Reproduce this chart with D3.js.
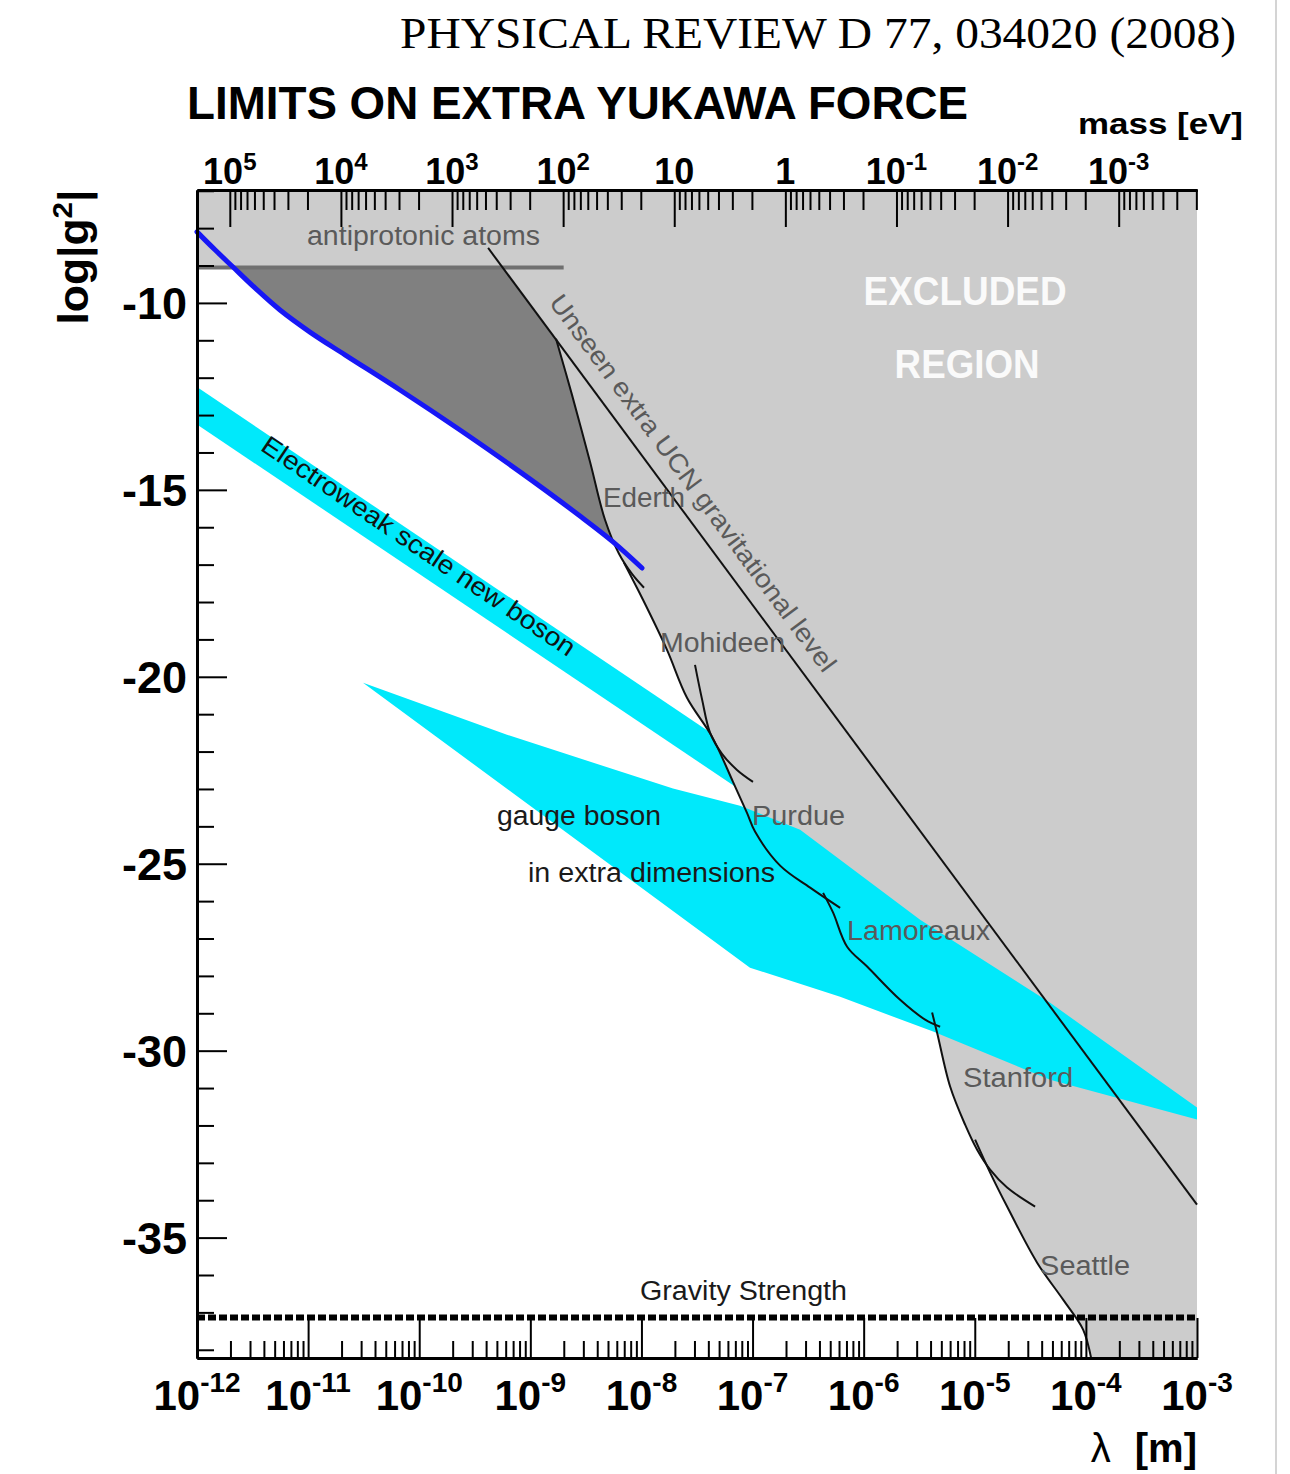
<!DOCTYPE html>
<html>
<head>
<meta charset="utf-8">
<title>Limits on extra Yukawa force</title>
<script src="https://cdn.jsdelivr.net/npm/d3@7/dist/d3.min.js"></script>
<style>
  html, body { margin: 0; padding: 0; background: #fff; }
  svg { display: block; font-family: "Liberation Sans", Arial, Helvetica, sans-serif; }
</style>
</head>
<body>
<svg id="chart" width="1290" height="1474"></svg>
<script>
// All curves are given as [log10(λ / m), log10 |g²|].
const lambdaExponents = [-12, -11, -10, -9, -8, -7, -6, -5, -4, -3];
const massExponents = [5, 4, 3, 2, 1, 0, -1, -2, -3];
const gMajorTicks = [-10, -15, -20, -25, -30, -35];

// new limit from neutron scattering (blue)
const thisWork = [[-12, -8.10], [-11.838, -8.58], [-11.676, -9.04], [-11.478, -9.60], [-11.253, -10.19],
  [-10.983, -10.78], [-10.668, -11.39], [-10.173, -12.33], [-9.633, -13.40], [-9.093, -14.52],
  [-8.553, -15.70], [-8.256, -16.39], [-7.995, -17.09]];

// sensitivity of an unseen extra UCN gravitational level
const ucnLevel = [[-9.38, -8.53], [-3.0, -34.12]];

// antiprotonic atoms constraint
const antiprotonic = [[-12, -9.05], [-8.7, -9.05]];

// previous experimental limits
const ederth = [[-8.769, -10.96], [-8.625, -12.46], [-8.463, -14.25], [-8.328, -15.80], [-8.202, -16.71],
  [-8.085, -17.25], [-7.977, -17.62]];
const mohideen = [[-8.157, -16.95], [-7.986, -17.94], [-7.770, -19.28], [-7.590, -20.56], [-7.365, -21.60],
  [-7.176, -22.81], [-7.050, -23.64], [-6.978, -24.14], [-6.752, -25.05], [-6.482, -25.64], [-6.212, -26.18]];
const purdue = [[-7.518, -19.68], [-7.454, -20.61], [-7.382, -21.50], [-7.275, -22.06], [-7.140, -22.49],
  [-6.996, -22.81]];
const lamoreaux = [[-6.365, -25.78], [-6.275, -26.31], [-6.149, -27.22], [-5.969, -27.75], [-5.672, -28.64],
  [-5.447, -29.17], [-5.312, -29.36]];
const stanford = [[-5.384, -28.98], [-5.339, -29.52], [-5.222, -30.96], [-5.087, -31.98], [-4.979, -32.65],
  [-4.862, -33.18], [-4.709, -33.66], [-4.457, -34.17]];
const seattle = [[-4.997, -32.38], [-4.862, -33.26], [-4.709, -34.17], [-4.439, -35.67], [-4.205, -36.66],
  [-4.025, -37.46], [-3.953, -38.22]];

// lower boundary of the previously excluded region (bottom right → top left)
const excludedEdge = [[-3.953, -38.22], [-4.025, -37.46], [-4.205, -36.66], [-4.439, -35.67], [-4.709, -34.17],
  [-4.862, -33.26], [-4.979, -32.65], [-5.087, -31.98], [-5.222, -30.96], [-5.339, -29.52], [-5.384, -29.30],
  [-5.447, -29.17], [-5.672, -28.64], [-5.969, -27.75], [-6.149, -27.22], [-6.275, -26.31], [-6.329, -25.96],
  [-6.482, -25.64], [-6.752, -25.05], [-6.978, -24.14], [-7.050, -23.64], [-7.176, -22.81], [-7.365, -21.60],
  [-7.590, -20.56], [-7.770, -19.28], [-7.986, -17.94], [-8.085, -17.25], [-8.202, -16.71], [-8.328, -15.80],
  [-8.463, -14.25], [-8.625, -12.46], [-8.769, -10.96], [-9.25, -9.05], [-12, -9.05]];

// region newly excluded by this work (dark grey)
const newlyExcluded = [[-11.676, -9.05], [-9.25, -9.05], [-8.769, -10.96], [-8.625, -12.46], [-8.463, -14.25],
  [-8.328, -15.80], [-8.247, -16.42], [-8.553, -15.70], [-9.093, -14.52], [-9.633, -13.40], [-10.173, -12.33],
  [-10.668, -11.39], [-10.983, -10.78], [-11.253, -10.19], [-11.478, -9.60]];

// theory bands
const electroweakBand = [[-12, -12.25], [-6.8, -22.65], [-6.8, -23.65], [-12, -13.25]];
const extraDimBand = [[-10.506, -20.16], [-9.210, -21.55], [-7.716, -22.99], [-7.113, -23.45], [-6.572, -24.09],
  [-5.492, -26.50], [-4.322, -28.72], [-3, -31.52], [-3, -31.84], [-4.322, -30.78], [-5.375, -29.49],
  [-6.212, -28.56], [-7.023, -27.78]];

const gravityStrength = -37.14;

// text annotations: label, anchor point [log10 λ, log10 |g²|], text width
const curveNotes = [
  ["antiprotonic atoms", [-11.010, -8.45], 233],
  ["Ederth", [-8.346, -15.45], 82],
  ["Mohideen", [-7.833, -19.33], 125],
  ["Purdue", [-7.0045, -23.96], 93],
  ["Lamoreaux", [-6.149, -27.03], 143],
  ["Stanford", [-5.105, -30.96], 110],
  ["Seattle", [-4.412, -35.99], 90]
];
const darkNotes = [
  ["Gravity Strength", [-8.013, -36.66], 207],
  ["gauge boson", [-9.300, -23.96], 164],
  ["in extra dimensions", [-9.021, -25.48], 247]
];
const regionNotes = [["EXCLUDED", [-5.087, -10.05], 203], ["REGION", [-5.069, -12.0], 145]];

// ---- scales ----
const hc = 1.97327e-7; // eV·m, λ = ħc / m
const yTop = -6.98, yBottom = -38.22;
const x = d3.scaleLog().domain([1e-12, 1e-3]).range([197, 1197]);
const xMass = d3.scaleLog().domain([hc / 1e-12, hc / 1e-3]).range([197, 1197]);
const y = d3.scaleLinear().domain([yBottom, yTop]).range([1358, 190]);

const px = d => x(Math.pow(10, d[0]));
const py = d => y(d[1]);
const straight = d3.line().x(px).y(py);
const smooth = d3.line().x(px).y(py).curve(d3.curveCatmullRom.alpha(0.5));
const closed = d3.line().x(px).y(py).curve(d3.curveLinearClosed);

const svg = d3.select("#chart");

// page edge
svg.append("line").attr("x1", 1276).attr("x2", 1276).attr("y1", 0).attr("y2", 1474)
  .attr("stroke", "#d4d4d4").attr("stroke-width", 2);

const plot = svg.append("g");

// electroweak-scale boson band (partly hidden by the excluded region)
plot.append("path").attr("d", closed(electroweakBand)).attr("fill", "#00e9fb");

// previously excluded region
const excludedPoly = [[-12, yTop], [-3, yTop], [-3, yBottom]].concat(excludedEdge);
plot.append("path").attr("d", closed(excludedPoly)).attr("fill", "#cccccc");

// newly excluded region
plot.append("path").attr("d", closed(newlyExcluded)).attr("fill", "#808080");

// gauge boson in extra dimensions band
plot.append("path").attr("d", closed(extraDimBand)).attr("fill", "#00e9fb");

// antiprotonic atoms level
plot.append("path").attr("d", straight(antiprotonic)).attr("fill", "none")
  .attr("stroke", "#707070").attr("stroke-width", 4);

// UCN level and experimental limits
plot.append("path").attr("d", straight(ucnLevel)).attr("fill", "none")
  .attr("stroke", "#111").attr("stroke-width", 2);
[ederth, mohideen, purdue, lamoreaux, stanford, seattle].forEach(c => {
  plot.append("path").attr("d", smooth(c)).attr("fill", "none")
    .attr("stroke", "#111").attr("stroke-width", 2);
});

// this work
plot.append("path").attr("d", smooth(thisWork)).attr("fill", "none")
  .attr("stroke", "#1717f5").attr("stroke-width", 5).attr("stroke-linecap", "round");

// gravity strength
plot.append("line").attr("x1", x(1e-12)).attr("x2", x(1e-3))
  .attr("y1", y(gravityStrength)).attr("y2", y(gravityStrength))
  .attr("stroke", "#000").attr("stroke-width", 6).attr("stroke-dasharray", "8,3");

// ---- axes ----
function styleAxis(g) {
  g.select(".domain").attr("stroke", "#000").attr("stroke-width", 3);
  g.selectAll(".tick line").attr("stroke", "#000").attr("stroke-width", 2);
  g.selectAll(".tick text").remove();
}

const minorLambda = [];
lambdaExponents.slice(0, -1).forEach(k => { for (let m = 2; m <= 9; m++) minorLambda.push(m * Math.pow(10, k)); });
svg.append("g").attr("transform", "translate(0,1358)")
  .call(d3.axisBottom(x).tickValues(minorLambda).tickSizeInner(-17).tickSizeOuter(0)).call(styleAxis);
svg.append("g").attr("transform", "translate(0,1358)")
  .call(d3.axisBottom(x).tickValues(lambdaExponents.map(k => Math.pow(10, k))).tickSizeInner(-40).tickSizeOuter(0))
  .call(styleAxis);

const minorMass = [];
for (let k = -4; k <= 5; k++) for (let m = 2; m <= 9; m++) {
  const v = m * Math.pow(10, k);
  if (v <= hc / 1e-12 && v >= hc / 1e-3) minorMass.push(v);
}
svg.append("g").attr("transform", "translate(0,190)")
  .call(d3.axisTop(xMass).tickValues(minorMass).tickSizeInner(-20).tickSizeOuter(0)).call(styleAxis);
svg.append("g").attr("transform", "translate(0,190)")
  .call(d3.axisTop(xMass).tickValues(massExponents.map(k => Math.pow(10, k))).tickSizeInner(-37).tickSizeOuter(0))
  .call(styleAxis);

const minorG = d3.range(-38, -6).filter(v => !gMajorTicks.includes(v));
svg.append("g").attr("transform", "translate(197,0)")
  .call(d3.axisLeft(y).tickValues(minorG).tickSizeInner(-17).tickSizeOuter(0)).call(styleAxis);
svg.append("g").attr("transform", "translate(197,0)")
  .call(d3.axisLeft(y).tickValues(gMajorTicks).tickSizeInner(-30).tickSizeOuter(0)).call(styleAxis);

// ---- tick labels ----
const labels = svg.append("g").attr("fill", "#000").attr("font-weight", "bold");

function powerLabel(xp, yp, exp, size, supSize, rise, plain) {
  const t = labels.append("text").attr("x", xp).attr("y", yp)
    .attr("text-anchor", "middle").attr("font-size", size);
  if (plain !== undefined) { t.text(plain); return; }
  t.append("tspan").text("10");
  t.append("tspan").attr("font-size", supSize).attr("dy", -rise).text(exp);
}

massExponents.forEach(k => {
  const xp = xMass(Math.pow(10, k));
  if (k === 1) powerLabel(xp, 184, null, 36, 24, 14, "10");
  else if (k === 0) powerLabel(xp, 184, null, 36, 24, 14, "1");
  else powerLabel(xp, 184, String(k), 36, 24, 14);
});

lambdaExponents.forEach(k => powerLabel(x(Math.pow(10, k)), 1410, String(k), 42, 28, 18));

gMajorTicks.forEach(v => {
  labels.append("text").attr("x", 187).attr("y", y(v) + 16).attr("text-anchor", "end")
    .attr("font-size", 45).text(String(v));
});

// ---- titles ----
svg.append("text").attr("x", 400).attr("y", 48)
  .style("font-family", "'Liberation Serif', 'Times New Roman', Times, serif")
  .attr("font-size", 44).attr("textLength", 836).attr("lengthAdjust", "spacingAndGlyphs")
  .text("PHYSICAL REVIEW D 77, 034020 (2008)");

svg.append("text").attr("x", 187).attr("y", 119).attr("font-weight", "bold").attr("font-size", 47)
  .attr("textLength", 781).attr("lengthAdjust", "spacingAndGlyphs")
  .text("LIMITS ON EXTRA YUKAWA FORCE");

svg.append("text").attr("x", 1078).attr("y", 134).attr("font-weight", "bold").attr("font-size", 30)
  .attr("textLength", 165).attr("lengthAdjust", "spacingAndGlyphs").text("mass [eV]");

const yTitle = svg.append("text").attr("transform", "translate(88,257) rotate(-90)")
  .attr("text-anchor", "middle").attr("font-weight", "bold").attr("font-size", 42)
  .attr("textLength", 135).attr("lengthAdjust", "spacingAndGlyphs");
yTitle.append("tspan").text("log|g");
yTitle.append("tspan").attr("font-size", 28).attr("dy", -16).text("2");
yTitle.append("tspan").attr("dy", 16).text("|");

const xTitle = svg.append("text").attr("x", 1197).attr("y", 1462).attr("text-anchor", "end").attr("font-size", 40);
xTitle.append("tspan").text("λ");
xTitle.append("tspan").attr("dx", 24).attr("font-weight", "bold").text("[m]");

// ---- annotations ----
const notes = svg.append("g");
curveNotes.forEach(([txt, p, w]) => {
  notes.append("text").attr("x", px(p)).attr("y", py(p)).attr("font-size", 27).attr("fill", "#5a5a5a")
    .attr("textLength", w).attr("lengthAdjust", "spacingAndGlyphs").text(txt);
});
darkNotes.forEach(([txt, p, w]) => {
  notes.append("text").attr("x", px(p)).attr("y", py(p)).attr("font-size", 27).attr("fill", "#1a1a1a")
    .attr("textLength", w).attr("lengthAdjust", "spacingAndGlyphs").text(txt);
});
regionNotes.forEach(([txt, p, w]) => {
  notes.append("text").attr("x", px(p)).attr("y", py(p)).attr("text-anchor", "middle")
    .attr("font-size", 41).attr("font-weight", "bold").attr("fill", "#fafafa")
    .attr("textLength", w).attr("lengthAdjust", "spacingAndGlyphs").text(txt);
});

// labels running along sloped features
function angleOf(seg) {
  const a = seg[0], b = seg[seg.length - 1];
  return Math.atan2(py(b) - py(a), px(b) - px(a)) * 180 / Math.PI;
}
const ucnAnchor = [-7.600, -14.96];
notes.append("text")
  .attr("transform", `translate(${px(ucnAnchor)},${py(ucnAnchor)}) rotate(${angleOf(ucnLevel)})`)
  .attr("text-anchor", "middle").attr("font-size", 26).attr("fill", "#5a5a5a")
  .attr("textLength", 462).attr("lengthAdjust", "spacingAndGlyphs")
  .text("Unseen extra UCN gravitational level");

const ewAnchor = [-10.05, -16.70];
notes.append("text")
  .attr("transform", `translate(${px(ewAnchor)},${py(ewAnchor)}) rotate(${angleOf(electroweakBand.slice(0, 2))})`)
  .attr("text-anchor", "middle").attr("font-size", 26).attr("fill", "#111")
  .attr("textLength", 372).attr("lengthAdjust", "spacingAndGlyphs")
  .text("Electroweak scale new boson");
</script>
</body>
</html>
